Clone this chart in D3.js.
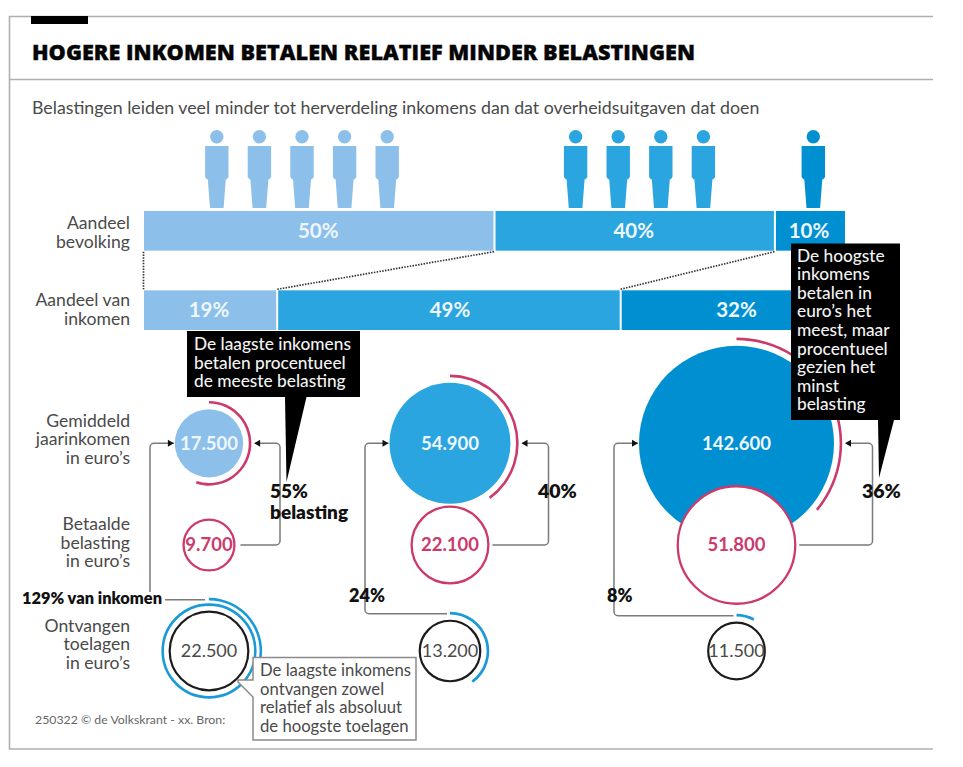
<!DOCTYPE html>
<html><head><meta charset="utf-8">
<script src="https://cdnjs.cloudflare.com/ajax/libs/d3/7.8.5/d3.min.js"></script>
<style>
html,body{margin:0;padding:0;background:#fff}
svg{display:block}
text{font-family:Lato,"Open Sans",sans-serif}
</style></head><body>
<svg id="c" width="963" height="767"></svg>
<script>
// ---------- data ----------
const groups = ["laag","midden","hoog"];
const peopleCounts = [5,4,1];
const populationShare = [50,40,10];
const incomeShare = [19,49,32];
const income = [17500,54900,142600];
const tax = [9700,22100,51800];
const allowance = [22500,13200,11500];
const taxPctDrawn = [55,40,36];
const allowanceArcDrawn = [129,40,8];
const allowanceLabels = ["129% van inkomen","24%","8%"];
const taxLabels = ["55%","40%","36%"];
const rowLabels = [["Aandeel","bevolking"],["Aandeel van","inkomen"],["Gemiddeld","jaarinkomen","in euro’s"],["Betaalde","belasting","in euro’s"],["Ontvangen","toelagen","in euro’s"]];
const title = "HOGERE INKOMEN BETALEN RELATIEF MINDER BELASTINGEN";
const subtitle = "Belastingen leiden veel minder tot herverdeling inkomens dan dat overheidsuitgaven dat doen";
const footer = "250322 © de Volkskrant - xx. Bron:";
const note1 = ["De laagste inkomens","betalen procentueel","de meeste belasting"];
const note2 = ["De hoogste","inkomens","betalen in","euro’s het","meest, maar","procentueel","gezien het","minst","belasting"];
const note3 = ["De laagste inkomens","ontvangen zowel","relatief als absoluut","de hoogste toelagen"];

// ---------- styling / layout ----------
const colors = ["#8cc0ea","#2ba5df","#0090d2"];
const PINK="#cc3a6b", BLUE="#1a9ad6", GREY="#7a7a7a", TXT="#4a4a4a";
const fmt = v => d3.format(",")(v).replace(",",".");
const svg = d3.select("#c");
const x = d3.scaleLinear().domain([0,100]).range([144,845]);
const r = d3.scaleSqrt().domain([0,142600]).range([0,97.5]);
const cx = d3.scaleOrdinal().domain(groups).range([209,450,736.5]);
const rowY = d3.scaleOrdinal().domain(["income","tax","allow"]).range([443.3,545,651]);
const barY = d3.scaleBand().domain(["pop","inc"]).range([211,330]).paddingInner(0.5);
const arcGen = d3.arc();
const stack = a => { let s=0; return a.map(v=>{const d={x0:s,x1:s+v,v}; s+=v; return d;}); };
// multi-line block as one text element
const block=(tx,ty,lines,step,attrs)=>{
  const t=svg.append("text").attr("x",tx).attr("y",ty);
  Object.entries(attrs).forEach(([k,v])=>t.attr(k,v));
  lines.forEach((l,i)=>t.append("tspan").attr("x",tx).attr("dy",i?step:0).text(l));
  return t;
};

// frame
svg.append("path").attr("d","M933,16.5H9.5V749H933").attr("fill","none").attr("stroke","#b0b0b0").attr("stroke-width",1.6);
svg.append("line").attr("x1",9.5).attr("x2",933).attr("y1",79.5).attr("y2",79.5).attr("stroke","#b0b0b0").attr("stroke-width",1.4);
svg.append("rect").attr("x",31).attr("y",16).attr("width",57).attr("height",8).attr("fill","#000");
svg.append("text").attr("x",32).attr("y",59.5).attr("textLength",663).attr("lengthAdjust","spacingAndGlyphs")
  .style("font-family","'Open Sans'").attr("font-weight",800).attr("font-size",20.5).attr("fill","#050505")
  .attr("stroke","#050505").attr("stroke-width",0.35).text(title);
svg.append("text").attr("x",32).attr("y",114).attr("font-size",17.75).attr("fill",TXT).text(subtitle);

// people
const personX = d3.scaleOrdinal().domain(groups).range([302,639.5,813.3]);
groups.forEach((g,gi)=>{
  const n=peopleCounts[gi], step=42.6;
  d3.range(n).forEach(k=>{
    const px=personX(g)+(k-(n-1)/2)*step;
    const s=svg.append("g").attr("transform",`translate(${px},0)`).attr("fill",colors[gi]);
    s.append("circle").attr("cy",136.7).attr("r",6.7);
    s.append("path").attr("d","M-11.7,146H11.7V177L10,179.2H9L6.8,208H-6.8L-9,179.2H-10L-11.7,177Z");
  });
});

// stacked bars
[["pop",populationShare],["inc",incomeShare]].forEach(([k,vals])=>{
  const g=svg.append("g");
  g.selectAll("rect").data(stack(vals)).join("rect")
    .attr("x",d=>x(d.x0)+(d.x0>0?1:0)).attr("width",d=>x(d.x1)-x(d.x0)-(d.x0>0?1:0)-(d.x1<100?1:0))
    .attr("y",barY(k)).attr("height",barY.bandwidth()).attr("fill",(d,i)=>colors[i]);
  g.selectAll("text").data(stack(vals)).join("text")
    .attr("x",(d,i)=>k==="inc"?cx(groups[i]):(x(d.x0)+x(d.x1))/2-1).attr("y",barY(k)+barY.bandwidth()/2+7).attr("text-anchor","middle")
    .attr("font-size",20.5).attr("font-weight",700).attr("fill","#eef7fd").text(d=>d.v+"%");
});

// dotted links between bars
const popS=stack(populationShare), incS=stack(incomeShare);
[0,1,2].forEach(i=>{
  svg.append("line").attr("x1",x(popS[i].x0)-.5).attr("y1",barY("pop")+barY.bandwidth()+1)
    .attr("x2",x(incS[i].x0)-.5).attr("y2",barY("inc")-1)
    .attr("stroke","#333").attr("stroke-width",1.7).attr("stroke-dasharray","1.5 1.3");
});

// row labels
const rowFirst=[229.3,306,426.7,530,631.7];
rowLabels.forEach((ls,i)=>{
  block(130,rowFirst[i],ls,18.6,{"text-anchor":"end","font-size":17.6,"fill":TXT});
});

// connectors
const rightOff=[71,98.5,136], leftOff=[59,85,122.5];
const elbow=(pts,rad=4)=>{
  const p=d3.path(); p.moveTo(...pts[0]);
  for(let i=1;i<pts.length-1;i++) p.arcTo(pts[i][0],pts[i][1],pts[i+1][0],pts[i+1][1],rad);
  p.lineTo(...pts[pts.length-1]); return p.toString();
};
const conn=svg.append("g");

// income circles + arcs
groups.forEach((g,i)=>{
  const c=cx(g), yI=rowY("income"), ri=r(income[i]);
  svg.append("circle").attr("cx",c).attr("cy",yI).attr("r",ri).attr("fill",colors[i]);
  svg.append("path").attr("transform",`translate(${c},${yI})`)
    .attr("d",arcGen({innerRadius:ri+5.6,outerRadius:ri+8.2,startAngle:0,endAngle:taxPctDrawn[i]/100*2*Math.PI}))
    .attr("fill",PINK);
  // tax circle
  const yT=rowY("tax"), rt=r(tax[i]);
  svg.append("circle").attr("cx",c).attr("cy",yT).attr("r",rt).attr("fill","#fff").attr("stroke",PINK).attr("stroke-width",2.3);
  // allowance
  const yA=rowY("allow"), ra=r(allowance[i])+0.6;
  const gA=svg.append("g").attr("transform",`translate(${c},${yA})`);
  gA.append("circle").attr("r",ra).attr("fill","#fff").attr("stroke","#1c1c1c").attr("stroke-width",2.2);
  const turn=allowanceArcDrawn[i]/100;
  if(turn>1){
    gA.append("circle").attr("r",ra+7).attr("fill","none").attr("stroke",BLUE).attr("stroke-width",2.6);
    gA.append("path").attr("d",arcGen({innerRadius:ra+11.2,outerRadius:ra+13.8,startAngle:0,endAngle:(turn-1)*2*Math.PI})).attr("fill",BLUE);
  } else {
    gA.append("path").attr("d",arcGen({innerRadius:ra+6.3,outerRadius:ra+9,startAngle:0,endAngle:turn*2*Math.PI})).attr("fill",BLUE);
  }
  // connector paths
  const rx=c+rightOff[i], lx=c-leftOff[i];
  conn.append("path").attr("fill","none").attr("stroke",GREY).attr("stroke-width",1.5)
    .attr("d",elbow([[c+rt+(i==0?6:4),yT],[rx,yT],[rx,yI],[c+ri+12,yI]]));
  conn.append("path").attr("d",`M${c+ri+11},${yI}l6,-3.5v7z`).attr("fill","#111");
  const topA=yA-(ra+(turn>1?13:8));
  if(i===0){
    conn.append("path").attr("fill","none").attr("stroke",GREY).attr("stroke-width",1.5)
      .attr("d",elbow([[lx,592],[lx,yI],[c-ri-1,yI]]));
    conn.append("line").attr("x1",165).attr("x2",c-4).attr("y1",topA+1).attr("y2",topA+1).attr("stroke",GREY).attr("stroke-width",1.5);
  } else {
    conn.append("path").attr("fill","none").attr("stroke",GREY).attr("stroke-width",1.5)
      .attr("d",elbow([[c-3,topA+1],[lx,topA+1],[lx,yI],[c-ri-1,yI]]));
  }
  conn.append("path").attr("d",`M${c-ri-1},${yI}l-6,-3.5v7z`).attr("fill","#111");
  conn.raise();

  // values
  const num=(cy,t,col,w,fs)=>svg.append("text").attr("x",c).attr("y",cy+6.3).attr("text-anchor","middle")
    .attr("font-size",fs).attr("font-weight",w).attr("fill",col).text(t);
  num(yI,fmt(income[i]),"#eef7fd",700,18.5);
  num(yT,fmt(tax[i]),PINK,700,18.5);
  num(yA,fmt(allowance[i]),"#4a4a4a",400,18);
});

// percent labels
const boldT=(tx,ty,t,fs)=>svg.append("text").attr("x",tx).attr("y",ty).attr("font-size",fs).attr("font-weight",800).attr("fill","#111").text(t);
block(270,498,[taxLabels[0],"belasting"],20.5,{"font-size":19,"font-weight":800,"fill":"#111"});
boldT(538,498,taxLabels[1],19.5); boldT(862,498,taxLabels[2],19.5);
boldT(22,604,allowanceLabels[0],16.4);
boldT(349,602,allowanceLabels[1],18); boldT(607,602,allowanceLabels[2],18);

// black callouts
svg.append("path").attr("d","M187,331H360V397H306.5L286.5,482L285,397H187Z").attr("fill","#000");
block(194,350,note1,18.6,{"font-size":17.3,"font-weight":500,"fill":"#f2f2f2"});
svg.append("path").attr("d","M791,243.5H900V420H894L879,478L878,420H791Z").attr("fill","#000");
block(797,261.5,note2,18.6,{"font-size":17.3,"font-weight":500,"fill":"#f2f2f2"});

// white note
svg.append("path").attr("d","M253,657.5H416V740H253V697L238,682V680H253Z").attr("fill","#fff").attr("stroke","#8a8a8a").attr("stroke-width",1.5);
block(260,676,note3,18.5,{"font-size":16.7,"fill":TXT});

svg.append("text").attr("x",35).attr("y",724).attr("font-size",12.3).attr("fill","#666").text(footer);
</script>
</body></html>
